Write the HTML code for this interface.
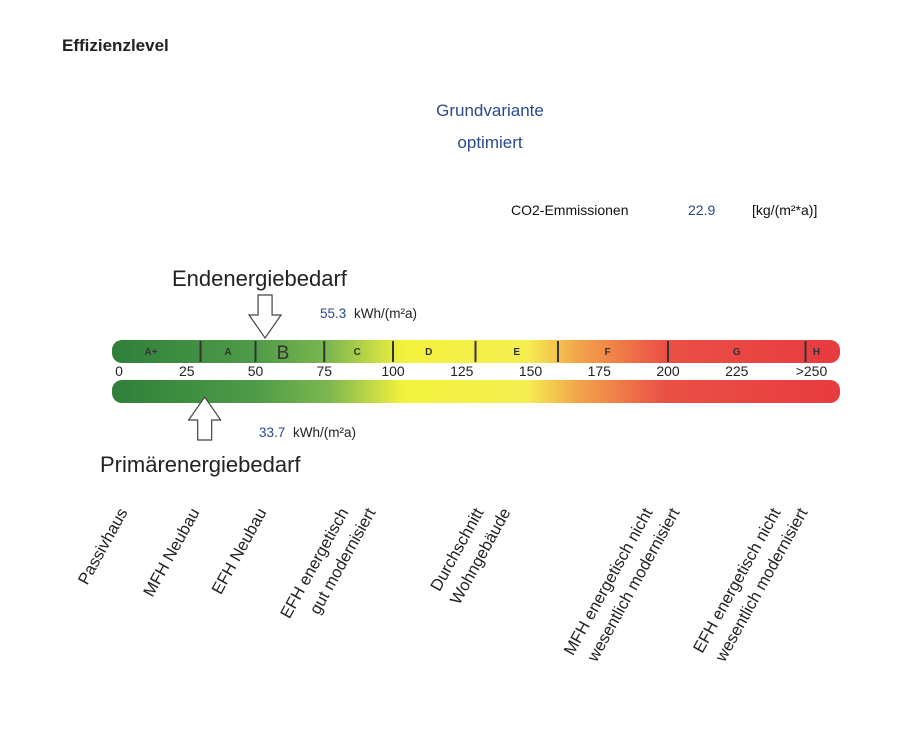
<!DOCTYPE html>
<html><head><meta charset="utf-8"><style>
body{margin:0;background:#fff;font-family:"Liberation Sans",sans-serif;}
svg{display:block}
</style></head><body>
<svg width="900" height="746" viewBox="0 0 900 746" font-family="Liberation Sans, sans-serif">
<defs>
<linearGradient id="g" x1="112" x2="840" gradientUnits="userSpaceOnUse">
<stop offset="0" stop-color="#2f7f3a"/><stop offset="0.2" stop-color="#4f9c48"/><stop offset="0.3" stop-color="#7fb850"/>
<stop offset="0.4" stop-color="#f2f23c"/><stop offset="0.57" stop-color="#f4ee50"/><stop offset="0.64" stop-color="#f3a54a"/>
<stop offset="0.76" stop-color="#ea5045"/><stop offset="1" stop-color="#e83a40"/></linearGradient>
</defs>
<text x="62" y="51" font-size="17" font-weight="bold" fill="#222">Effizienzlevel</text>
<text x="490" y="116" font-size="17" fill="#2a4a8a" text-anchor="middle">Grundvariante</text>
<text x="490" y="148" font-size="17" fill="#2a4a8a" text-anchor="middle">optimiert</text>
<text x="511" y="215" font-size="14" fill="#111">CO2-Emmissionen</text>
<text x="688" y="215" font-size="14" fill="#2a4a8a">22.9</text>
<text x="752" y="215" font-size="14" fill="#111">[kg/(m²*a)]</text>
<text x="172" y="286" font-size="22" fill="#222">Endenergiebedarf</text>
<text x="100" y="472" font-size="22" fill="#222">Primärenergiebedarf</text>
<rect x="112" y="340" width="728" height="23" rx="10" fill="url(#g)"/>
<rect x="112" y="380" width="728" height="23" rx="10" fill="url(#g)"/>
<g id="marks"></g>
<g id="labels" font-size="16.5" fill="#222"></g>
</svg>
<script>
const ticks=[0,25,50,75,100,125,150,175,200,225];
const tickLast=">250";
const boundaries=[30,50,75,100,130,160,200,250];
const classes=["A+","A","B","C","D","E","F","G","H"];
const classMid=[12,40,60,87,113,145,178,225,254];
const endEnergy=55.3;
const primaryEnergy=33.7;
const ns="http://www.w3.org/2000/svg";
const X=v=>118+v*2.75;
const marks=document.getElementById('marks');
function mk(tag,attrs,parent,txt){const e=document.createElementNS(ns,tag);for(const k in attrs)e.setAttribute(k,attrs[k]);if(txt!==undefined)e.textContent=txt;parent.appendChild(e);return e;}
ticks.forEach(t=>{const e=mk('text',{x:X(t)+(t===0?1:0),y:376,'font-size':14,'text-anchor':'middle',fill:'#222'},marks,String(t));

});
const tl=mk('text',{x:X(250)+6,y:376,'font-size':14,'text-anchor':'middle',fill:'#222'},marks,tickLast);


boundaries.forEach(b=>{const l=mk('line',{x1:X(b),x2:X(b),y1:341,y2:362,stroke:'#333','stroke-width':2},marks);

});
classes.forEach((c,i)=>{const big=c==='B';const e=mk('text',{x:X(classMid[i]),y:big?359:355,'font-size':big?19:10,'font-weight':big?'normal':'bold','text-anchor':'middle',fill:'#333'},marks,c);

});
function arrow(x,down){const y0=down?295:440,s=down?1:-1;
const p=`M${x-7},${y0} L${x+7},${y0} L${x+7},${y0+s*20} L${x+16},${y0+s*20} L${x},${y0+s*43} L${x-16},${y0+s*20} L${x-7},${y0+s*20} Z`;
return mk('path',{d:p,fill:'#fff',stroke:'#444','stroke-width':1.2},marks);}
const a1=arrow(X(endEnergy)-5,true);


const a2=arrow(X(primaryEnergy)-6,false);


const v1=mk('text',{x:320,y:318,'font-size':13.5,fill:'#2a4a8a'},marks,endEnergy.toFixed(1));


const u1=mk('text',{x:354,y:318,'font-size':13.5,fill:'#222'},marks,'kWh/(m²a)');


const v2=mk('text',{x:259,y:437,'font-size':13.5,fill:'#2a4a8a'},marks,primaryEnergy.toFixed(1));


const u2=mk('text',{x:293,y:437,'font-size':13.5,fill:'#222'},marks,'kWh/(m²a)');


const refNames=["Passivhaus","MFH Neubau","EFH Neubau","EFH energetisch","gut modernisiert","Durchschnitt","Wohngebäude","MFH energetisch nicht","wesentlich modernisiert","EFH energetisch nicht","wesentlich modernisiert"];
const refX=[128,200,267,349,376,484,511,653,680,781,808];
const lab=document.getElementById('labels');
refNames.forEach((n,i)=>{const x=refX[i],y=512;
const e=mk('text',{x:x,y:y,'text-anchor':'end',transform:`rotate(-61 ${x} ${y})`},lab,n);

});
</script>
</body></html>
